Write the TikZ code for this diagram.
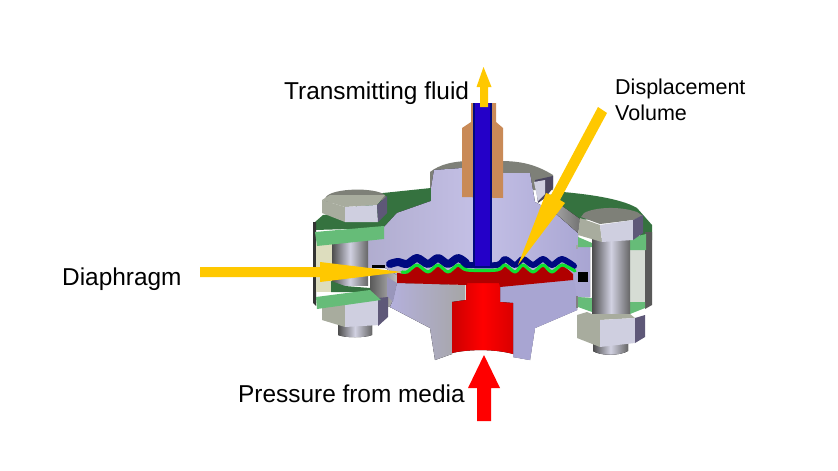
\documentclass[tikz,border=0pt]{standalone}
\usepackage{fontspec}
\setmainfont{Liberation Sans}
\definecolor{lav}{HTML}{B4B0DC}
\definecolor{lavL}{HTML}{C4C0E6}
\definecolor{lavD}{HTML}{A8A5D2}
\definecolor{grn}{HTML}{66BC78}
\definecolor{dgrn}{HTML}{35723F}
\definecolor{cream}{HTML}{DDDDBE}
\definecolor{creamR}{HTML}{D6DCD4}
\definecolor{hexL}{HTML}{A8AC9E}
\definecolor{hexM}{HTML}{CFCFE0}
\definecolor{hexR}{HTML}{5E5878}
\definecolor{hexT}{HTML}{7E8078}
\definecolor{yel}{HTML}{FFC800}
\definecolor{cop}{HTML}{C98A57}
\definecolor{tube}{HTML}{2400C8}
\definecolor{navy}{HTML}{000A80}
\definecolor{dred}{HTML}{B00000}
\definecolor{lgrn}{HTML}{10E030}
\tikzset{
  lbl/.style={font=\fontsize{24.4}{28}\selectfont,inner sep=0pt,anchor=base west},
  lblS/.style={font=\fontsize{21.5}{25}\selectfont,inner sep=0pt,anchor=base west},
  shaft/.style={left color=black!70,right color=black!60,middle color=hexM!95!white}
}
\begin{document}
\begin{tikzpicture}[x=1pt,y=-1pt]
\useasboundingbox (0,0) rectangle (838,471);
% rear gray top of the body
\fill[hexT] (430,172) .. controls (440,164) and (455,161) .. (470,161) -- (500,161) .. controls (520,161) and (535,164) .. (553,175) -- (553,190) -- (530,190) -- (430,190) -- cycle;
% rear small bolt
\fill[hexR!80!black] (535,180) -- (553,176) -- (553,188) -- (545,198) -- (538,203) -- cycle;
\fill[hexM] (534,182) -- (545,180) -- (545,194) -- (538,201) -- cycle;
% dark green tops
\fill[dgrn] (383,193) -- (431,188) -- (431,202) -- (397,213) -- (384,228) -- (315,230) -- (315,222) -- (323,215) -- (345,212) -- cycle;
\fill[dgrn] (545,196) -- (563,192) .. controls (585,194) and (620,198) .. (637,208) -- (652,225) -- (652,240) -- (640,240) -- (640,215) -- (580,220) -- (555,213) -- cycle;
% dark outer edges of flange
\fill[black!65] (645,232) -- (652,232) -- (652,305) -- (645,309) -- cycle;
\fill[black!80] (313,222) -- (316,222) -- (316,306) -- (313,303) -- cycle;
% left lower gray hub
\fill[left color=black!65,right color=black!25] (370,272) -- (397,272) -- (397,307) -- (390,307) -- (378,302) -- (370,293) -- cycle;
% body, main lavender
\fill[left color=lavL!90!black,right color=lavD,middle color=lavL] (368,240) -- (384,227) -- (397,213) -- (431,201) -- (431,188) -- (434,170) -- (462,168) -- (500,173) -- (530,173) -- (535,202) -- (555,213) -- (578,233) -- (578,247) -- (590,247) -- (590,297) -- (577,297) -- (577,310) -- (535,328) -- (530,360) -- (513,357) -- (513,303) -- (500,302) -- (500,275) -- (397,275) -- (385,268) -- (368,268) -- cycle;
% gray flange surface on the right
\fill[left color=black!35,right color=black!55] (553,211) -- (562,206) -- (580,219) -- (578,233) -- cycle;
% left lower surface
\fill[left color=lav,right color=black!35] (390,307) -- (393,300) -- (397,283) -- (465,285) -- (465,300) -- (452,302) -- (452,354) -- (435,360) -- (430,328) -- cycle;
\fill[lav!85!black] (387,277) -- (397,283) -- (393,302) -- (387,296) -- cycle;
% right lower lavender above port
\fill[lavD] (500,286) -- (574,279) -- (577,297) -- (577,310) -- (535,328) -- (530,360) -- (513,357) -- (513,303) -- (500,302) -- cycle;
% red port
\fill[left color=red!80!black,right color=red!85!black,middle color=red] (466,280) -- (500,280) -- (500,302) -- (513,303) -- (513,354) .. controls (495,349) and (470,349) .. (452,353) -- (452,302) -- (466,300) -- cycle;
% dark red cavity
\fill[dred] plot[smooth] coordinates {(397,273) (407,273) (417,266) (428,273) (438,266) (448,273) (458,266) (467,271) (497,271) (505,266) (515,273) (523,266) (533,273) (543,266) (552,273) (562,266) (573,274)} -- (573,280) -- (500,287) -- (499,283) -- (467,283) -- (467,285) -- (397,283) -- cycle;
% blue membrane
\draw[navy,line width=8pt,line cap=round,line join=round] plot[smooth] coordinates {(390,264) (398,262) (407,264) (417,258) (428,264) (438,258) (448,264) (458,258) (466,263)};
\draw[navy,line width=6pt,line cap=round,line join=round] plot[smooth] coordinates {(464,265) (497,265) (505,259) (515,265) (523,259) (533,265) (543,259) (552,265) (562,259) (574,266)};
% copper fitting and blue tube
\fill[cop] (471,103) -- (496,103) -- (496,122) -- (503,128) -- (503,198) -- (462,197) -- (462,128) -- (471,122) -- cycle;
\fill[navy] (473,103) rectangle (492,268);
\fill[tube] (475,103) rectangle (490,266);
% green membrane
\draw[lgrn,line width=3.2pt,line cap=round,line join=round] plot[smooth] coordinates {(402,272) (407,272) (417,265) (428,272) (438,265) (448,272) (458,265) (467,270) (497,270) (505,265) (515,272) (523,265) (533,272) (543,265) (552,272) (562,265) (575,271)};
% black marks
\fill[black] (578,272) rectangle (588,282);
\fill[black] (372,265) rectangle (385,268);
% left flange inner
\fill[cream] (316,244) rectangle (332,292);
\fill[shaft] (332,240) rectangle (368,285);
% left flange greens
\fill[grn] (315,232) -- (384,226) -- (384,239) -- (317,246) -- cycle;
\fill[dgrn] (331,281) -- (345,286) -- (370,288) -- (370,292) -- (331,292) -- cycle;
% left bottom bolt
\fill[shaft] (338,325) -- (372,325) -- (372,335) .. controls (365,338) and (345,338) .. (338,335) -- cycle;
\fill[hexL] (322,305) -- (345,303) -- (345,327) -- (322,320) -- cycle;
\fill[hexM] (345,303) -- (380,298) -- (380,325) -- (345,327) -- cycle;
\fill[hexR] (378,298) -- (388,297) -- (388,317) -- (378,326) -- cycle;
\fill[grn] (316,297) -- (370,290) -- (381,300) -- (317,309) -- cycle;
% left top bolt head
\fill[hexT] (326,197) .. controls (332,188) and (375,187) .. (385,195) -- (387,200) -- (322,203) -- cycle;
\fill[hexL] (322,200) -- (330,195) -- (385,195) -- (377,205) -- (345,207) -- cycle;
\fill[hexL] (322,200) -- (345,207) -- (345,222) -- (322,213) -- cycle;
\fill[hexM] (345,207) -- (377,205) -- (378,222) -- (345,222) -- cycle;
\fill[hexR] (377,205) -- (387,196) -- (387,213) -- (378,222) -- cycle;
% right flange greens
\fill[grn] (578,237) -- (592,243) -- (592,247) -- (578,247) -- cycle;
\fill[grn] (578,297) -- (592,298) -- (592,312) -- (578,307) -- cycle;
\fill[black!35] (576,245) rectangle (578,249);
\fill[black!50] (576,296) rectangle (578,308);
\fill[creamR] (630,250) rectangle (645,303);
\fill[grn] (630,238) -- (646,234) -- (646,250) -- (630,250) -- cycle;
\fill[grn] (630,302) -- (645,302) -- (645,308) -- (630,314) -- cycle;
% right shaft
\fill[shaft] (592,238) rectangle (630,316);
% right top bolt head
\fill[hexT] (581,217) -- (584,213) .. controls (595,207) and (620,206) .. (637,212) -- (643,216) -- (633,220) -- (600,224) -- cycle;
\fill[hexL] (580,218) -- (600,225) -- (602,242) -- (578,235) -- cycle;
\fill[hexM] (600,225) -- (633,220) -- (633,240) -- (602,242) -- cycle;
\fill[hexR] (633,220) -- (643,215) -- (643,233) -- (633,240) -- cycle;
% right bottom bolt
\fill[shaft] (593,340) -- (628,340) -- (628,351) .. controls (620,356) and (600,356) .. (593,351) -- cycle;
\fill[hexL] (577,315) -- (587,312) -- (592,314) -- (630,314) -- (635,318) -- (600,320) -- (600,347) -- (577,338) -- cycle;
\fill[hexM] (600,320) -- (635,318) -- (635,343) -- (600,347) -- cycle;
\fill[hexR] (635,318) -- (645,315) -- (645,337) -- (635,343) -- cycle;
% arrows
\fill[yel] (200,267) -- (320,267) -- (320,262) -- (402,272) -- (320,282) -- (320,277) -- (200,277) -- cycle;
\fill[yel] (598,107) -- (607,113) -- (560,200) -- (565,203) -- (518,265) -- (546,193) -- (551,195) -- cycle;
\fill[yel] (480,107) -- (480,87) -- (476.5,87) -- (483.5,67) -- (491.5,87) -- (488,87) -- (488,107) -- cycle;
\fill[red] (477,421) -- (477,388) -- (468,388) -- (484,355) -- (500,388) -- (491,388) -- (491,421) -- cycle;
% labels
\node[lbl] (tf) at (284,99) {Transmitting fluid};
\node[lblS] (dv1) at (615,94) {Displacement};
\node[lblS] (dv2) at (615,120) {Volume};
\node[lbl] (dia) at (62,285) {Diaphragm};
\node[lbl] (pm) at (238,402) {Pressure from media};
\end{tikzpicture}
\end{document}
